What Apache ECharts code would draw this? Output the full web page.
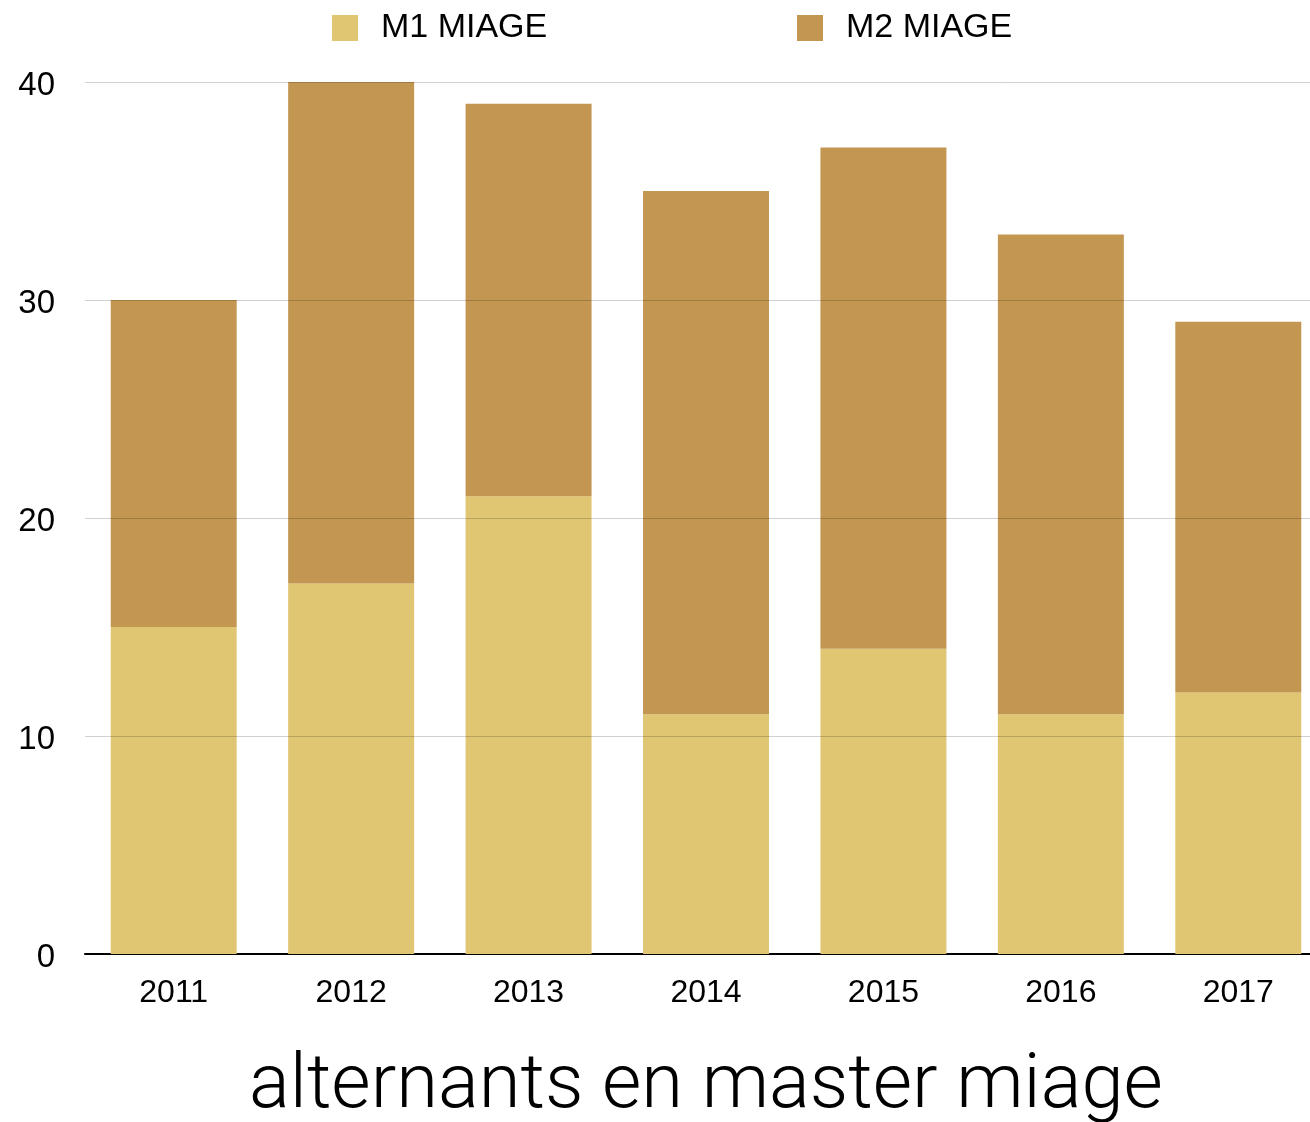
<!DOCTYPE html>
<html>
<head>
<meta charset="utf-8">
<script src="https://cdn.jsdelivr.net/npm/echarts@6/dist/echarts.min.js"></script>
<style>
  html, body { margin: 0; padding: 0; background: #fff; }
  #chart { width: 1310px; height: 1122px; }
</style>
</head>
<body>
<div id="chart"></div>
<script>
// Alternants per year, split between first and second year of the MIAGE master
const years = ['2011', '2012', '2013', '2014', '2015', '2016', '2017'];
const m1Miage = [15, 17, 21, 11, 14, 11, 12];
const m2Miage = [15, 23, 18, 24, 23, 22, 17];
const yTicks = { min: 0, max: 40, interval: 10 };

const FONT = '"Liberation Sans", Helvetica, Arial, sans-serif';
const TITLE_FONT = 'Roboto, "Liberation Sans", sans-serif';
const chart = echarts.init(document.getElementById('chart'));

const legendText = { fontFamily: FONT, fontSize: 34, color: '#000', padding: [0, 0, 0, 18] };

chart.setOption({
  animation: false,
  backgroundColor: '#fff',
  legend: [
    { data: ['M1 MIAGE'], left: 327, top: 6, itemWidth: 26, itemHeight: 26,
      icon: 'rect', textStyle: legendText },
    { data: ['M2 MIAGE'], left: 792, top: 6, itemWidth: 26, itemHeight: 26,
      icon: 'rect', textStyle: legendText }
  ],
  grid: { left: 85, right: -17, top: 82, bottom: 168, containLabel: false, outerBoundsMode: 'none' },
  xAxis: {
    type: 'category',
    data: years,
    name: 'alternants en master miage',
    nameLocation: 'middle',
    nameGap: 96,
    nameTextStyle: { fontFamily: TITLE_FONT, fontWeight: 300, fontSize: 76, color: '#000' },
    axisLine: { lineStyle: { color: '#000', width: 2 } },
    axisTick: { show: false },
    axisLabel: { fontFamily: FONT, fontSize: 32, color: '#000', margin: 23 }
  },
  yAxis: {
    type: 'value',
    min: yTicks.min,
    max: yTicks.max,
    interval: yTicks.interval,
    z: 3,
    axisLine: { show: false },
    axisTick: { show: false },
    axisLabel: { fontFamily: FONT, fontSize: 33, color: '#000', margin: 30,
      verticalAlign: 'top', lineHeight: 8 },
    splitLine: { lineStyle: { color: 'rgba(0,0,0,0.18)', width: 1 } }
  },
  series: [
    { name: 'M1 MIAGE', type: 'bar', stack: 'total', data: m1Miage,
      barCategoryGap: '29%', itemStyle: { color: '#E0C673' } },
    { name: 'M2 MIAGE', type: 'bar', stack: 'total', data: m2Miage,
      barCategoryGap: '29%', itemStyle: { color: '#C39651' } }
  ]
});
</script>
</body>
</html>
